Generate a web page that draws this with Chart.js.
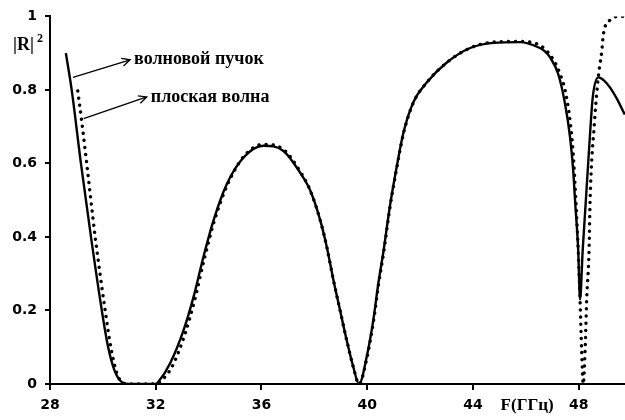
<!DOCTYPE html>
<html>
<head>
<meta charset="utf-8">
<script src="https://cdn.jsdelivr.net/npm/chart.js@4.4.1/dist/chart.umd.min.js"></script>
<style>
	html, body { margin: 0; padding: 0; background: #fff; }
	#c { display: block; }
</style>
</head>
<body>
<canvas id="c" width="625" height="420"></canvas>
<script>
// ── Data ──────────────────────────────────────────────────────────────────
// wave beam: solid line
var beamF = [28.6, 28.82, 29.17, 29.55, 29.96, 30.2, 30.45, 30.72, 31.0, 31.5, 32.0, 32.1,
	32.54, 33.05, 33.43, 33.8, 34.18, 34.69, 35.32, 36.07, 36.83, 37.46, 37.84, 38.22,
	38.47, 38.72, 38.97, 39.22, 39.47, 39.69, 39.98, 40.23, 40.42, 40.61, 40.86, 41.12,
	41.37, 41.74, 42.25, 43.0, 43.89, 44.77, 45.78, 46.53, 46.72, 46.91, 47.22, 47.48,
	47.67, 47.79, 47.86, 47.98, 48.05, 48.15, 48.27, 48.42, 48.53, 48.74, 48.95, 49.18,
	49.45, 49.74];
var beamR = [0.9, 0.8, 0.6, 0.4, 0.2, 0.1, 0.035, 0.005, 0, 0, 0, 0.006,
	0.056, 0.146, 0.237, 0.345, 0.444, 0.544, 0.616, 0.648, 0.634, 0.575, 0.527, 0.446,
	0.373, 0.283, 0.201, 0.12, 0.047, 0, 0.074, 0.174, 0.274, 0.359, 0.485, 0.593,
	0.684, 0.766, 0.82, 0.874, 0.914, 0.928, 0.93, 0.914, 0.905, 0.889, 0.844, 0.763,
	0.672, 0.582, 0.5, 0.364, 0.23, 0.364, 0.5, 0.672, 0.78, 0.834, 0.826, 0.807,
	0.775, 0.733];

// plane wave: dotted line
var planeF = [29.05, 29.2, 29.39, 29.71, 30.09, 30.3, 30.53, 30.74, 31.0, 31.5, 32.0, 32.15,
	32.6, 33.1, 33.47, 33.83, 34.2, 34.7, 35.32, 36.07, 36.83, 37.46, 37.84, 38.22,
	38.47, 38.72, 38.97, 39.22, 39.47, 39.69, 39.99, 40.24, 40.43, 40.62, 40.87, 41.13,
	41.38, 41.75, 42.25, 43.0, 43.89, 44.77, 45.78, 46.6, 47.04, 47.29, 47.48, 47.67,
	47.79, 47.89, 47.98, 48.05, 48.11, 48.17, 48.24, 48.3, 48.39, 48.43, 48.6, 48.74,
	48.87, 48.93, 49.18, 49.56, 49.74];
var planeR = [0.797, 0.715, 0.6, 0.4, 0.198, 0.1, 0.029, 0.004, 0, 0, 0, 0.006,
	0.045, 0.135, 0.228, 0.338, 0.44, 0.54, 0.618, 0.652, 0.638, 0.578, 0.527, 0.446,
	0.373, 0.283, 0.201, 0.12, 0.047, 0, 0.072, 0.172, 0.272, 0.357, 0.485, 0.593,
	0.684, 0.766, 0.82, 0.874, 0.914, 0.93, 0.932, 0.918, 0.882, 0.844, 0.8, 0.717,
	0.627, 0.5, 0.364, 0.228, 0.092, 0, 0.09, 0.228, 0.364, 0.5, 0.717, 0.835,
	0.905, 0.95, 0.99, 1.0, 1.0];

var xTicks = [28, 32, 36, 40, 44, 48];
var yTicks = [0, 0.2, 0.4, 0.6, 0.8, 1];
var yTickLabels = ["0", "0.2", "0.4", "0.6", "0.8", "1"];

function pts(fs, rs) {
	return fs.map((f, i) => ({ x: f, y: rs[i] }));
}

// ── Arrows, notes and axis titles ─────────────────────────────────────────
var notes = {
	id: "notes",
	afterDraw: function (chart) {
		var ctx = chart.ctx, sx = chart.scales.x, sy = chart.scales.y;
		var arrows = [
			{ from: [28.87, 0.834], to: [31.03, 0.882], text: "волновой пучок" },
			{ from: [29.27, 0.722], to: [31.66, 0.781], text: "плоская волна" },
		];
		ctx.save();
		ctx.strokeStyle = "#000";
		ctx.fillStyle = "#000";
		ctx.lineWidth = 1.3;
		arrows.forEach((a) => {
			var x0 = sx.getPixelForValue(a.from[0]), y0 = sy.getPixelForValue(a.from[1]);
			var x1 = sx.getPixelForValue(a.to[0]), y1 = sy.getPixelForValue(a.to[1]);
			var ang = Math.atan2(y1 - y0, x1 - x0);
			ctx.beginPath();
			ctx.moveTo(x0, y0);
			ctx.lineTo(x1, y1);
			ctx.moveTo(x1 - 9 * Math.cos(ang - 0.45), y1 - 9 * Math.sin(ang - 0.45));
			ctx.lineTo(x1, y1);
			ctx.lineTo(x1 - 9 * Math.cos(ang + 0.45), y1 - 9 * Math.sin(ang + 0.45));
			ctx.stroke();
			ctx.font = "bold 18px 'Liberation Serif'";
			ctx.textAlign = "left";
			ctx.textBaseline = "middle";
			ctx.fillText(a.text, x1 + 4, y1);
		});

		// |R|^2
		var ry = sy.getPixelForValue(0.925);
		ctx.font = "bold 18px 'Liberation Serif'";
		ctx.textAlign = "left";
		ctx.textBaseline = "middle";
		ctx.fillText("|R|", 13, ry + 1);
		var w = ctx.measureText("|R|").width;
		ctx.font = "bold 12px 'Liberation Serif'";
		ctx.fillText("2", 13 + w + 3, ry - 5);

		// F(ГГц)
		ctx.font = "bold 17px 'Liberation Serif'";
		ctx.textAlign = "center";
		ctx.fillText("F(ГГц)", sx.getPixelForValue(46.05), chart.chartArea.bottom + 22);
		ctx.restore();
	},
};

new Chart(document.getElementById("c"), {
	type: "line",
	data: {
		datasets: [
			{
				label: "волновой пучок",
				data: pts(beamF, beamR),
				borderColor: "#000",
				borderWidth: 2.4,
				pointRadius: 0,
				cubicInterpolationMode: "monotone",
			},
			{
				label: "плоская волна",
				data: pts(planeF, planeR),
				borderColor: "#000",
				borderWidth: 3.4,
				borderDash: [0.1, 7],
				borderCapStyle: "round",
				pointRadius: 0,
				cubicInterpolationMode: "monotone",
			},
		],
	},
	options: {
		responsive: false,
		animation: false,
		layout: { padding: { top: 16, right: 0, left: 0, bottom: 0 } },
		plugins: { legend: { display: false }, tooltip: { enabled: false } },
		scales: {
			x: {
				type: "linear",
				min: 28,
				max: 49.75,
				afterFit: (s) => { s.height = 36; },
				afterBuildTicks: (s) => { s.ticks = xTicks.map((v) => ({ value: v })); },
				border: { color: "#000", width: 2 },
				grid: { drawOnChartArea: false, tickLength: 6, color: "#000", lineWidth: 2 },
				ticks: {
					color: "#000",
					padding: 7,
					font: { family: "DejaVu Sans", size: 14, weight: "bold" },
					callback: (v) => String(v),
				},
			},
			y: {
				min: 0,
				max: 1,
				afterFit: (s) => { s.width = 50; },
				afterBuildTicks: (s) => { s.ticks = yTicks.map((v) => ({ value: v })); },
				border: { color: "#000", width: 2 },
				grid: { drawOnChartArea: false, tickLength: 5, color: "#000", lineWidth: 2 },
				ticks: {
					color: "#000",
					padding: 8,
					font: { family: "DejaVu Sans", size: 14, weight: "bold" },
					callback: (v) => yTickLabels[yTicks.indexOf(v)],
				},
			},
		},
	},
	plugins: [notes],
});
</script>
</body>
</html>
